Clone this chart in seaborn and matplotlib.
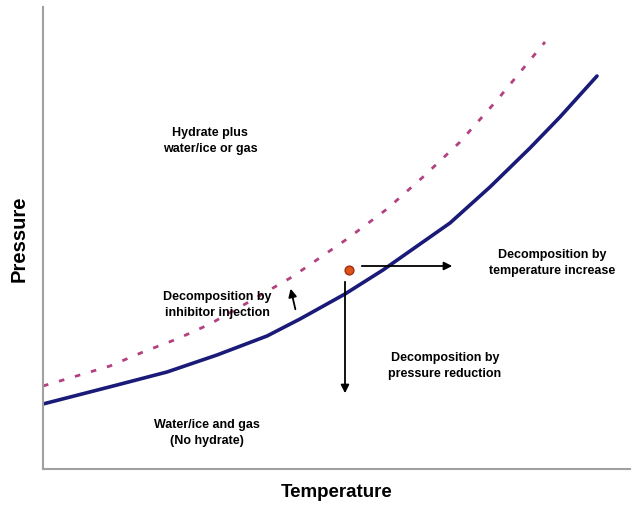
import numpy as np
import pandas as pd
import seaborn as sns
from matplotlib import pyplot as plt

# Hydrate equilibrium curves (arbitrary units)
solidTemp = [0, 74, 124, 174, 224, 257, 302, 340, 407, 447, 487, 517, 554]
solidPres = [65, 84, 97, 114, 133, 150, 175, 199, 246, 282, 321, 352, 393]
dashTemp = [0, 67, 100, 134, 167, 204, 249, 304, 344, 380, 417, 455, 502]
dashPres = [83, 103, 117, 130, 145, 166, 192, 230, 260, 292, 327, 370, 427]

# Hydrate state point
pointTemp = [306]
pointPres = [199]

solid = pd.DataFrame({'Temperature': solidTemp, 'Pressure': solidPres})
dashed = pd.DataFrame({'Temperature': dashTemp, 'Pressure': dashPres})

sns.set_style('white')
plt.rcParams['font.family'] = ['Liberation Sans', 'DejaVu Sans']
plt.rcParams['text.color'] = 'black'
plt.rcParams['axes.labelcolor'] = 'black'

fig = plt.figure(figsize=(6.43, 5.06), dpi=100)
ax = fig.add_axes([43 / 643, 36 / 506, 587 / 643, 462 / 506])

sns.lineplot(data=dashed, x='Temperature', y='Pressure', ax=ax, color='#b3407f',
             linewidth=2.0, linestyle=(0, (2, 4)), sort=False)
sns.lineplot(data=solid, x='Temperature', y='Pressure', ax=ax, color='#1a1a78',
             linewidth=2.6, sort=False)
ax.scatter(pointTemp, pointPres, s=40, color='#e0521a', edgecolor='#a03010', zorder=5)

ax.set_xlim(0, 587)
ax.set_ylim(0, 462)
ax.set_xticks([])
ax.set_yticks([])
for side in ['top', 'right']:
    ax.spines[side].set_visible(False)
for side in ['left', 'bottom']:
    ax.spines[side].set_color('#a0a0a0')
    ax.spines[side].set_linewidth(1.5)

ax.set_xlabel('Temperature', fontsize=13.5, fontweight='bold', labelpad=10)
ax.set_ylabel('Pressure', fontsize=14.5, fontweight='bold', labelpad=10)

# Arrows
arrowStyle = dict(arrowstyle='-|>', color='black', lw=1.3, mutation_scale=12)
ax.annotate('', xy=(412, 203), xytext=(316, 203), arrowprops=arrowStyle)
ax.annotate('', xy=(302, 73), xytext=(302, 190), arrowprops=arrowStyle)
ax.annotate('', xy=(247, 183), xytext=(253, 157), arrowprops=arrowStyle)

# Region labels
textStyle = dict(ha='center', va='center', fontsize=9, fontweight='bold', linespacing=1.45)
ax.text(167, 329, 'Hydrate plus\nwater/ice or gas', **textStyle)
ax.text(174, 165, 'Decomposition by\ninhibitor injection', **textStyle)
ax.text(164, 37, 'Water/ice and gas\n(No hydrate)', **textStyle)
ax.text(509, 207, 'Decomposition by\ntemperature increase', **textStyle)
ax.text(402, 104, 'Decomposition by\npressure reduction', **textStyle)

plt.savefig('out.png', dpi=100)
